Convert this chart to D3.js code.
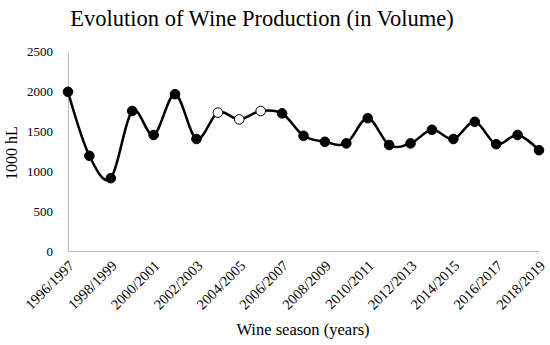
<!DOCTYPE html>
<html>
<head>
<meta charset="utf-8">
<script src="https://cdn.jsdelivr.net/npm/d3@7"></script>
<style>
  body { margin: 0; background: #fff; }
  svg text { font-family: "Liberation Serif", "DejaVu Serif", serif; fill: #000; }
</style>
</head>
<body>
<div id="chart"></div>
<script>
"use strict";

const seasons = [
  "1996/1997", "1997/1998", "1998/1999", "1999/2000", "2000/2001", "2001/2002",
  "2002/2003", "2003/2004", "2004/2005", "2005/2006", "2006/2007", "2007/2008",
  "2008/2009", "2009/2010", "2010/2011", "2011/2012", "2012/2013", "2013/2014",
  "2014/2015", "2015/2016", "2016/2017", "2017/2018", "2018/2019"
];
const production = [
  1990, 1190, 910, 1750, 1450, 1960, 1400, 1730, 1645, 1750, 1720, 1440,
  1365, 1345, 1660, 1325, 1345, 1515, 1400, 1615, 1335, 1450, 1260
];
// seasons drawn with open markers in the original
const openSeasons = ["2003/2004", "2004/2005", "2005/2006"];
const yTicks = [0, 500, 1000, 1500, 2000, 2500];
const xTickLabels = seasons.filter((s, i) => i % 2 === 0);

const width = 550, height = 345;
const margin = { top: 51, right: 11, bottom: 94, left: 68 };

const svg = d3.select("#chart").append("svg")
  .attr("width", width)
  .attr("height", height);

const x = d3.scalePoint()
  .domain(seasons)
  .range([margin.left, width - margin.right]);

const y = d3.scaleLinear()
  .domain([0, 2500])
  .range([height - margin.bottom, margin.top]);

// title
svg.append("text")
  .attr("x", 262)
  .attr("y", 26)
  .attr("text-anchor", "middle")
  .style("font-size", "22.5px")
  .text("Evolution of Wine Production (in Volume)");

// y axis
const yAxis = svg.append("g")
  .attr("transform", `translate(${margin.left},0)`)
  .call(d3.axisLeft(y).tickValues(yTicks).tickFormat(d3.format("d")).tickSize(0).tickPadding(15));
yAxis.select(".domain").attr("stroke", "#bfbfbf").attr("stroke-width", 1);
yAxis.selectAll("text").style("font-size", "13px").style("font-family", "Liberation Serif, serif");

// x axis
const xAxis = svg.append("g")
  .attr("transform", `translate(0,${y(0)})`)
  .call(d3.axisBottom(x).tickValues(xTickLabels).tickSize(0));
xAxis.select(".domain").attr("stroke", "#bfbfbf").attr("stroke-width", 1);
xAxis.selectAll("text")
  .style("font-size", "14.5px")
  .style("font-family", "Liberation Serif, serif")
  .attr("text-anchor", "end")
  .attr("transform", "translate(3,12) rotate(-45)")
  .attr("x", 0)
  .attr("y", 0)
  .attr("dy", "0.35em");

// axis titles
svg.append("text")
  .attr("transform", `translate(17,${(y(0) + y(2500)) / 2 + 2}) rotate(-90)`)
  .attr("text-anchor", "middle")
  .style("font-size", "16px")
  .text("1000 hL");

svg.append("text")
  .attr("x", 303)
  .attr("y", 335)
  .attr("text-anchor", "middle")
  .style("font-size", "16.5px")
  .text("Wine season (years)");

// series
const pts = seasons.map((s, i) => ({ season: s, value: production[i] }));

const line = d3.line()
  .x(d => x(d.season))
  .y(d => y(d.value))
  .curve(d3.curveCardinal.tension(0));

svg.append("path")
  .datum(pts)
  .attr("fill", "none")
  .attr("stroke", "#000")
  .attr("stroke-width", 2.5)
  .attr("d", line);

svg.append("g")
  .selectAll("circle")
  .data(pts)
  .enter()
  .append("circle")
  .attr("cx", d => x(d.season))
  .attr("cy", d => y(d.value))
  .attr("r", 4.8)
  .attr("fill", d => openSeasons.includes(d.season) ? "#fff" : "#000")
  .attr("stroke", "#000")
  .attr("stroke-width", 1);
</script>
</body>
</html>
